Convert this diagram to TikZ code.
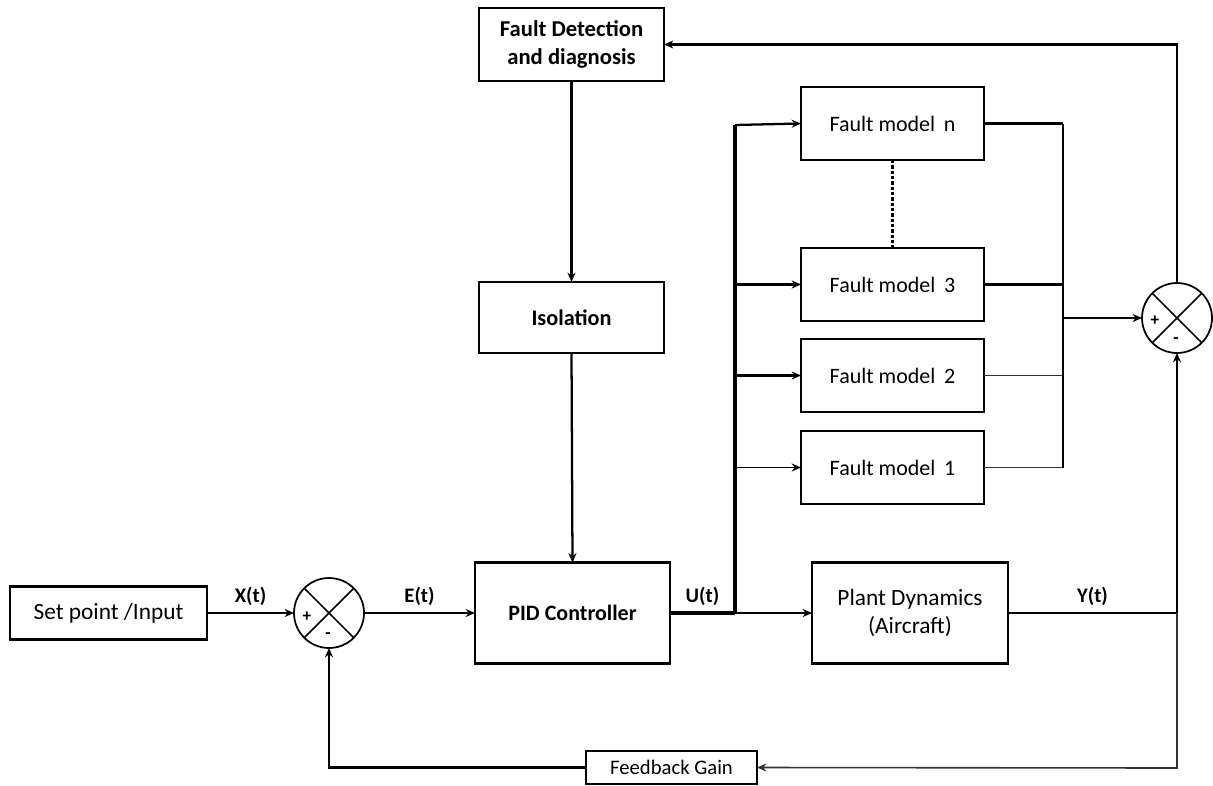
\documentclass[tikz,border=0pt]{standalone}
\usepackage{fontspec}
\setmainfont{Carlito}
\usetikzlibrary{arrows.meta,calc}
\begin{document}
\begin{tikzpicture}[x=0.75pt,y=-0.75pt,
  every node/.style={font=\fontsize{14}{17}\selectfont},
  box/.style={draw,line width=1.6pt,inner sep=0pt,outer sep=0pt,align=center},
  sumc/.style={draw,circle,line width=1.3pt,inner sep=0pt,outer sep=0pt,minimum size=52.5pt},
  conn/.style={line width=1.7pt},
  thin conn/.style={line width=1.2pt,black!80},
  arr/.style={-{Stealth[length=7pt,width=6pt]}},
  lbl/.style={font=\fontsize{15.5}{18}\selectfont\bfseries},
  sgn/.style={font=\fontsize{13}{15}\selectfont\bfseries,inner sep=0pt}]
\useasboundingbox (0,0) rectangle (1213,785);
% blocks
\node[box,minimum width=147.75pt,minimum height=39.75pt,font=\fontsize{17.5}{21}\selectfont] (sp) at (108.5,613) {Set point /Input};
\node[sumc] (s1) at (329,613) {};
\node[box,minimum width=146.25pt,minimum height=75.75pt,font=\fontsize{16.5}{20}\selectfont\bfseries] (pid) at (572.5,613) {PID Controller};
\node[box,minimum width=147pt,minimum height=75.75pt,font=\fontsize{17.5}{21.5}\selectfont] (plant) at (910,613) {Plant Dynamics\\(Aircraft)};
\node[box,minimum width=138.75pt,minimum height=54.75pt,font=\fontsize{17}{20.5}\selectfont\bfseries] (fdd) at (571.5,44.5) {Fault Detection\\and diagnosis};
\node[box,minimum width=138.75pt,minimum height=53.25pt,font=\fontsize{16.7}{20}\selectfont\bfseries] (iso) at (571.5,317.5) {Isolation};
\node[box,minimum width=137.25pt,minimum height=54.75pt,font=\fontsize{16.5}{20}\selectfont] (fmn) at (892.5,123.5) {Fault model\, n};
\node[box,minimum width=137.25pt,minimum height=54.75pt,font=\fontsize{16.5}{20}\selectfont] (fm3) at (892.5,284.5) {Fault model\, 3};
\node[box,minimum width=137.25pt,minimum height=54.75pt,font=\fontsize{16.5}{20}\selectfont] (fm2) at (892.5,375.5) {Fault model\, 2};
\node[box,minimum width=137.25pt,minimum height=54.75pt,font=\fontsize{16.5}{20}\selectfont] (fm1) at (892.5,467.5) {Fault model\, 1};
\node[sumc] (s2) at (1177,318) {};
\node[box,minimum width=128.25pt,minimum height=24.75pt,font=\fontsize{15.5}{18}\selectfont] (fb) at (671.5,767.5) {Feedback Gain};
% summing junction crosses and signs
\draw[line width=1.1pt] (s1.north east) -- (s1.south west) (s1.north west) -- (s1.south east);
\draw[line width=1.1pt] (s2.north east) -- (s2.south west) (s2.north west) -- (s2.south east);
\node[sgn] (p1) at (307,617) {+};
\node[sgn] (m1) at (328,636) {-};
\node[sgn] (p2) at (1155,321) {+};
\node[sgn] (m2) at (1176,341) {-};
% coordinates
\coordinate (busB) at (735,613);
\coordinate (busT) at (735,125);
\coordinate (rbus) at (1063,318);
\coordinate (yj) at (1177,613);
\coordinate (yb) at (1177,768);
% connectors
\draw[conn,arr] (sp.east) -- node[lbl,above=1pt] {X(t)} (s1.west);
\draw[conn,arr] (s1.east) -- node[lbl,above=1pt] {E(t)} (pid.west);
\draw[line width=2.4pt] (pid.east) -- node[lbl,above=1pt] {U(t)} (busB);
\draw[conn,arr] (busB) -- (plant.west);
\draw[line width=2.4pt] (busB) -- (busT);
\draw[conn,arr] (busT) -- (fmn.west);
\draw[conn,arr] (fm3.west -| busB) -- (fm3.west);
\draw[conn,arr] (fm2.west -| busB) -- (fm2.west);
\draw[thin conn,black,arr] (fm1.west -| busB) -- (fm1.west);
\draw[conn] (fmn.east) -- (fmn.east -| rbus);
\draw[conn] (fm3.east) -- (fm3.east -| rbus);
\draw[thin conn] (fm2.east) -- (fm2.east -| rbus);
\draw[thin conn] (fm1.east) -- (fm1.east -| rbus);
\draw[conn] (fmn.east -| rbus) -- (fm1.east -| rbus);
\draw[conn,arr] (rbus) -- (s2.west);
\draw[line width=2.6pt,dash pattern=on 2.5pt off 1.5pt] (fmn.south) -- (fm3.north);
\draw[conn,arr] (s2.north) |- (fdd.east);
\draw[conn,arr] (fdd.south) -- (iso.north);
\draw[conn,arr] (iso.south) -- (pid.north);
\draw[conn] (plant.east) -- node[lbl,above=1pt] {Y(t)} (yj);
\draw[conn,arr] (yj) -- (s2.south);
\draw[thin conn,arr] (yj) -- (yb) -- (fb.east);
\draw[conn,arr] (fb.west) -| (s1.south);
\end{tikzpicture}
\end{document}
